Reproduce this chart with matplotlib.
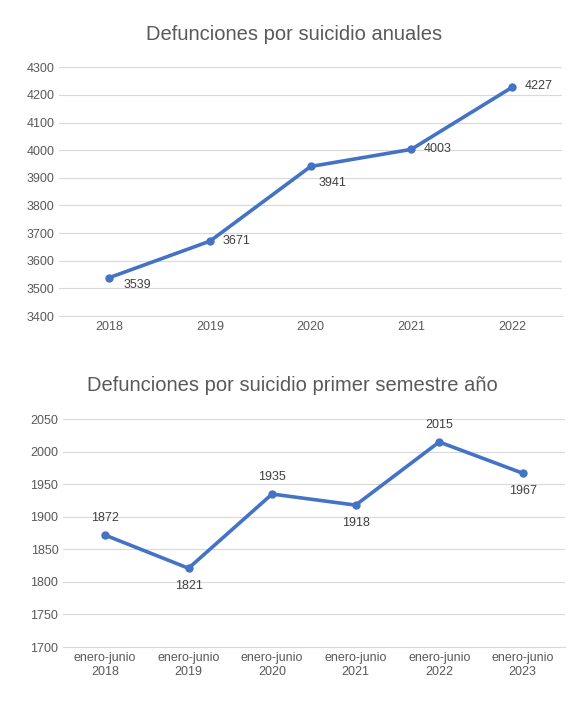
import matplotlib
matplotlib.use("Agg")
import matplotlib.pyplot as plt

years = ["2018", "2019", "2020", "2021", "2022"]
annual = [3539, 3671, 3941, 4003, 4227]
sem_labels = ["enero-junio\n2018", "enero-junio\n2019", "enero-junio\n2020",
              "enero-junio\n2021", "enero-junio\n2022", "enero-junio\n2023"]
semester = [1872, 1821, 1935, 1918, 2015, 1967]

C = "#4472C4"
TXT = "#595959"
plt.rcParams['font.family'] = ['Liberation Sans', 'DejaVu Sans']

fig = plt.figure(figsize=(5.85, 7.21), dpi=100)

def style(ax, ymin, ymax, step):
    ax.set_ylim(ymin, ymax)
    ax.set_yticks(range(ymin, ymax + 1, step))
    ax.grid(axis='y', color='#D9D9D9', lw=0.8)
    ax.set_axisbelow(True)
    for s in ['top', 'right', 'left']:
        ax.spines[s].set_visible(False)
    ax.spines['bottom'].set_color('#D9D9D9')
    ax.tick_params(length=0, colors=TXT, labelsize=9)

ax1 = fig.add_axes([0.101, 0.5617, 0.860, 0.345])
x1 = range(len(years))
ax1.plot(x1, annual, color=C, lw=2.6, marker='o', ms=5)
ax1.set_xlim(-0.5, len(years) - 0.5)
ax1.set_xticks(list(x1), years)
style(ax1, 3400, 4300, 100)
fig.text(0.503, 0.952, "Defunciones por suicidio anuales", color=TXT, fontsize=14.5,
         ha='center', va='center')
offs1 = [(10, -5), (9, 0), (6, -12), (9, 0), (9, 1)]
for i, (v, o) in enumerate(zip(annual, offs1)):
    ax1.annotate(str(v), (i, v), xytext=o, textcoords='offset points',
                 fontsize=9, color='#404040', va='center')

ax2 = fig.add_axes([0.108, 0.1026, 0.857, 0.316])
x2 = range(len(sem_labels))
ax2.plot(x2, semester, color=C, lw=2.6, marker='o', ms=5)
ax2.set_xlim(-0.5, len(sem_labels) - 0.5)
ax2.set_xticks(list(x2), sem_labels)
style(ax2, 1700, 2050, 50)
fig.text(0.5, 0.466, "Defunciones por suicidio primer semestre año", color=TXT,
         fontsize=14.5, ha='center', va='center')
offs2 = [(0, 12), (0, -13), (0, 12), (0, -13), (0, 12), (0, -13)]
for i, (v, o) in enumerate(zip(semester, offs2)):
    ax2.annotate(str(v), (i, v), xytext=o, textcoords='offset points',
                 fontsize=9, color='#404040', ha='center', va='center')

fig.savefig("out.png", dpi=100)
